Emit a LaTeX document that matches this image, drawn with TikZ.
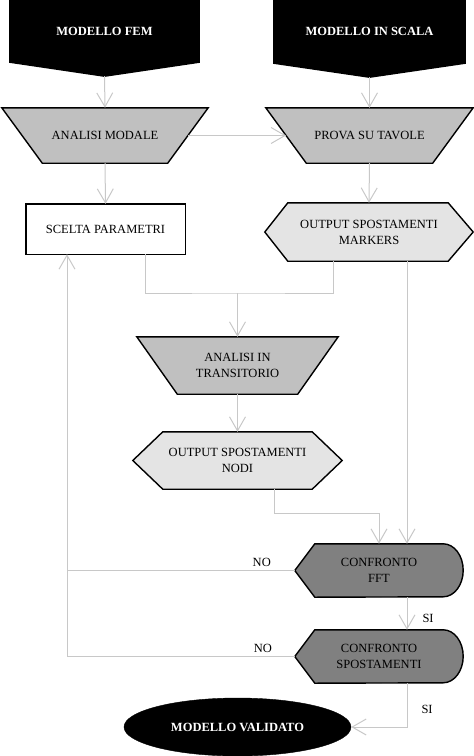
\documentclass[tikz,border=0pt]{standalone}
\usepackage{fontspec}
\setmainfont{Liberation Serif}
\usetikzlibrary{arrows.meta,calc,shapes.geometric,backgrounds}
\definecolor{conn}{HTML}{C8C8C8}
\definecolor{trapfill}{HTML}{C0C0C0}
\definecolor{hexfill}{HTML}{E4E4E4}
\definecolor{cmpfill}{HTML}{808080}
\begin{document}
\begin{tikzpicture}[x=1pt,y=-1pt,
  txt/.style={inner sep=0pt, align=center, font=\fontsize{12.5}{16}\selectfont},
  boldtxt/.style={txt, text=white, font=\fontsize{12.5}{16}\selectfont\bfseries},
  outl/.style={draw=black, line width=1.4pt, line join=miter},
  blackshape/.style={outl, fill=black},
  trapshape/.style={outl, fill=trapfill},
  hexshape/.style={outl, fill=hexfill},
  cmpshape/.style={outl, fill=cmpfill},
  conline/.style={draw=conn, line width=1pt},
  arr/.style={conline, -{Straight Barb[length=14pt,width=16pt,line width=1pt]}},
  lbl/.style={inner sep=3pt, font=\fontsize{12.5}{15}\selectfont}
]
\useasboundingbox (0,0) rectangle (474,756);

% nodes (text)
\node[boldtxt, minimum width=189pt, minimum height=62pt] (fem) at (104.5,31) {MODELLO FEM};
\node[boldtxt, minimum width=191pt, minimum height=63pt] (mis) at (369.5,31.5) {MODELLO IN SCALA};
\coordinate (femtip) at ($(fem.south)+(0,14)$);
\coordinate (mistip) at ($(mis.south)+(0,14)$);

\node[txt, minimum width=165.5pt, minimum height=55pt] (am) at (105,135.5) {ANALISI MODALE};
\node[txt, minimum width=166.5pt, minimum height=55pt] (pst) at (369.5,135.5) {PROVA SU TAVOLE};

\node[txt, minimum width=159pt, minimum height=50pt] (sp) at (105.5,229) {SCELTA PARAMETRI};
\node[txt, minimum width=208pt, minimum height=58pt] (om) at (369,232) {OUTPUT SPOSTAMENTI\\MARKERS};

\node[txt, minimum width=160.5pt, minimum height=57pt] (at) at (237.5,365.5) {ANALISI IN\\TRANSITORIO};
\node[txt, minimum width=209pt, minimum height=57pt] (on) at (237.5,460.5) {OUTPUT SPOSTAMENTI\\NODI};

\node[txt, minimum width=128pt, minimum height=53pt] (cf) at (379,570.5) {CONFRONTO\\FFT};
\node[txt, minimum width=128pt, minimum height=53pt] (cs) at (379,656.5) {CONFRONTO\\SPOSTAMENTI};
\coordinate (cfL) at ($(cf.west)+(-20,0)$);
\coordinate (csL) at ($(cs.west)+(-20,0)$);

\node[ellipse, fill=black, draw=black, minimum width=227pt, minimum height=58pt, inner sep=0pt,
      text=white, font=\fontsize{12.5}{16}\selectfont\bfseries] (mv) at (237.5,727) {MODELLO VALIDATO};

% shapes
\begin{scope}[on background layer]
\path[blackshape] (fem.north west) -- (fem.north east) -- (fem.south east) -- (femtip) -- (fem.south west) -- cycle;
\path[blackshape] (mis.north west) -- (mis.north east) -- (mis.south east) -- (mistip) -- (mis.south west) -- cycle;
\path[trapshape] ($(am.north west)+(-20.25,0)$) -- ($(am.north east)+(20.25,0)$) -- ($(am.south east)+(-20.25,0)$) -- ($(am.south west)+(20.25,0)$) -- cycle;
\path[trapshape] ($(pst.north west)+(-20.25,0)$) -- ($(pst.north east)+(20.25,0)$) -- ($(pst.south east)+(-20.25,0)$) -- ($(pst.south west)+(20.25,0)$) -- cycle;
\path[trapshape] ($(at.north west)+(-20.25,0)$) -- ($(at.north east)+(20.25,0)$) -- ($(at.south east)+(-20.25,0)$) -- ($(at.south west)+(20.25,0)$) -- cycle;
\path[outl, fill=white] (sp.north west) rectangle (sp.south east);
\path[hexshape] (om.west) -- ($(om.north west)+(23,0)$) -- ($(om.north east)+(-25,0)$) -- (om.east) -- ($(om.south east)+(-25,0)$) -- ($(om.south west)+(23,0)$) -- cycle;
\path[hexshape] (on.west) -- ($(on.north west)+(30,0)$) -- ($(on.north east)+(-30,0)$) -- (on.east) -- ($(on.south east)+(-30,0)$) -- ($(on.south west)+(30,0)$) -- cycle;
\path[cmpshape] (cfL) -- (cf.north west) -- (cf.north east) arc[start angle=90, end angle=-90, x radius=20pt, y radius=26.5pt] -- (cf.south west) -- cycle;
\path[cmpshape] (csL) -- (cs.north west) -- (cs.north east) arc[start angle=90, end angle=-90, x radius=20pt, y radius=26.5pt] -- (cs.south west) -- cycle;
\end{scope}

% connector anchors on the shapes
\coordinate (spR) at ($(sp.south)+(39.5,0)$);
\coordinate (spL) at ($(sp.south)+(-38.5,0)$);
\coordinate (omL) at ($(om.south)+(-36,0)$);
\coordinate (omR) at ($(om.south)+(38,0)$);
\coordinate (onR) at ($(on.south)+(36.5,0)$);
\coordinate (j1) at (237.5,293);

% connectors
\path[arr] (femtip) -- (am.north);
\path[arr] (mistip) -- (pst.north);
\path[arr] (am.east) -- (pst.west);
\path[arr] (am.south) -- (sp.north);
\path[arr] (pst.south) -- (om.north);
\path[conline] (spR) |- (j1) -| (omL);
\path[arr] (j1) -- (at.north);
\path[arr] (at.south) -- (on.north);
\path[arr] (onR) -- ++(0,24) -| (cf.north);
\path[arr] (omR) -- (omR |- cf.north);
\path[conline] (cfL) -- node[lbl, pos=0.145, above] {NO} (cfL -| spL);
\path[arr] (csL) -- node[lbl, pos=0.14, above] {NO} (csL -| spL) -- (spL);
\path[arr] (omR |- cf.south) -- node[lbl, pos=0.64, right, xshift=12pt] {SI} (omR |- cs.north);
\path[arr] (omR |- cs.south) |- node[lbl, pos=0.3, right, xshift=11pt] {SI} (mv.east);
\end{tikzpicture}
\end{document}
